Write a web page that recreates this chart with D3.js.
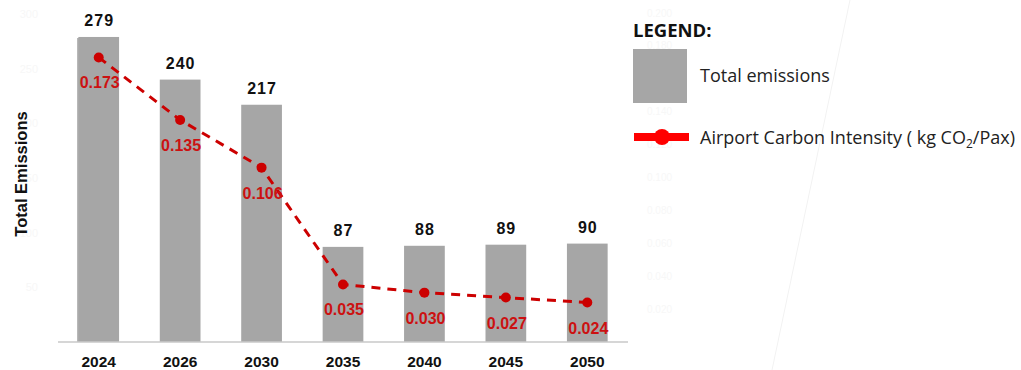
<!DOCTYPE html>
<html><head><meta charset="utf-8">
<script src="https://cdn.jsdelivr.net/npm/d3@7"></script>
<style>body{margin:0;background:#fff}svg{display:block}</style>
</head><body>
<svg id="c" width="1021" height="370"></svg>
<script>
const years = ["2024","2026","2030","2035","2040","2045","2050"];
const emissions = [279, 240, 217, 87, 88, 89, 90];
const intensity = [0.173, 0.135, 0.106, 0.035, 0.030, 0.027, 0.024];
const leftTicks = [50, 100, 150, 200, 250, 300];
const rightTicks = [0.020, 0.040, 0.060, 0.080, 0.100, 0.120, 0.140, 0.160, 0.180, 0.200];

const svg = d3.select("#c");
const fontA = "Liberation Sans, Arial, sans-serif";
const fontL = "'Open Sans', sans-serif";
const x = d3.scaleBand().domain(years).range([58, 628]).paddingInner(0.5).paddingOuter(0.25);
const yL = d3.scaleLinear().domain([0, 300]).range([342, 14]);
const yR = d3.scaleLinear().domain([0, 0.2]).range([342, 13]);

// faint diagonal line
svg.append("line").attr("x1", 850).attr("y1", 0).attr("x2", 772).attr("y2", 370)
  .attr("stroke", "#f2f2f2").attr("stroke-width", 1);

// faint tick labels
svg.append("g").selectAll("text").data(leftTicks).join("text")
  .attr("x", 38).attr("y", d => yL(d)).attr("dy", "0.35em").attr("text-anchor", "end")
  .attr("font-family", fontA).attr("font-size", 11).attr("fill", "#f7f7f7").text(d => d);
svg.append("g").selectAll("text").data(rightTicks).join("text")
  .attr("x", 647).attr("y", d => yR(d)).attr("dy", "0.35em")
  .attr("font-family", fontA).attr("font-size", 10).attr("fill", "#f7f7f7").text(d => d.toFixed(3));

// bars
svg.append("g").selectAll("rect").data(years).join("rect")
  .attr("x", d => x(d)).attr("width", x.bandwidth())
  .attr("y", (d, i) => yL(emissions[i])).attr("height", (d, i) => yL(0) - yL(emissions[i]))
  .attr("fill", "#a6a6a6");

// axes lines
svg.append("line").attr("x1", 78).attr("x2", 78).attr("y1", 38).attr("y2", 342)
  .attr("stroke", "#a0a0a0").attr("stroke-width", 1.5);
svg.append("line").attr("x1", 58).attr("x2", 628).attr("y1", 342).attr("y2", 342)
  .attr("stroke", "#c8c8c8").attr("stroke-width", 1.5);

// x labels
const xAxis = d3.axisBottom(x).tickSize(0).tickPadding(0);
const gx = svg.append("g").attr("transform", "translate(0,367)").call(xAxis);
gx.select(".domain").remove();
gx.selectAll("text").attr("dy", 0).attr("font-family", fontA).attr("font-size", 15.5).attr("font-weight", "bold").attr("fill", "#111");

// bar value labels
svg.append("g").selectAll("text").data(years).join("text")
  .attr("x", d => x(d) + x.bandwidth() / 2 + 0.5).attr("y", (d, i) => yL(emissions[i]) - 11)
  .attr("text-anchor", "middle").attr("font-family", fontA).attr("font-size", 16)
  .attr("letter-spacing", 1).attr("font-weight", "bold").attr("fill", "#111").text((d, i) => emissions[i]);

// line
const cx = d => x(d) + x.bandwidth() / 2;
const line = d3.line().x((d, i) => cx(years[i])).y(d => yR(d));
svg.append("path").datum(intensity).attr("d", line).attr("fill", "none")
  .attr("stroke", "#cc0000").attr("stroke-width", 3).attr("stroke-dasharray", "9,7");
svg.append("g").selectAll("circle").data(intensity).join("circle")
  .attr("cx", (d, i) => cx(years[i])).attr("cy", d => yR(d)).attr("r", 5).attr("fill", "#cc0000");
svg.append("g").selectAll("text").data(intensity).join("text")
  .attr("x", (d, i) => cx(years[i]) + 1).attr("y", d => yR(d) + 31)
  .attr("text-anchor", "middle").attr("font-family", fontA).attr("font-size", 16)
  .attr("font-weight", "bold").attr("fill", "#cc1111").text(d => d.toFixed(3));

// y title
svg.append("text").attr("transform", "translate(27,174) rotate(-90)").attr("text-anchor", "middle")
  .attr("font-family", fontA).attr("font-size", 16.5).attr("font-weight", "bold").attr("fill", "#111")
  .text("Total Emissions");

// legend
const lg = svg.append("g");
lg.append("text").attr("x", 633).attr("y", 37).attr("font-family", fontL).attr("font-size", 18.5)
  .attr("font-weight", "bold").attr("fill", "#111").text("LEGEND:");
lg.append("rect").attr("x", 633).attr("y", 49).attr("width", 54).attr("height", 54).attr("fill", "#a6a6a6");
lg.append("text").attr("x", 700).attr("y", 82).attr("font-family", fontL).attr("font-size", 18)
  .attr("fill", "#222").text("Total emissions");
lg.append("line").attr("x1", 634).attr("x2", 689).attr("y1", 137).attr("y2", 137)
  .attr("stroke", "#ff0000").attr("stroke-width", 8);
lg.append("circle").attr("cx", 662).attr("cy", 137).attr("r", 8).attr("fill", "#ff0000");
const t = lg.append("text").attr("x", 700).attr("y", 144).attr("font-family", fontL).attr("font-size", 18).attr("fill", "#222");
t.append("tspan").text("Airport Carbon Intensity ( kg CO");
t.append("tspan").attr("font-size", 12).attr("dy", 4).text("2");
t.append("tspan").attr("dy", -4).text("/Pax)");
</script>
</body></html>
